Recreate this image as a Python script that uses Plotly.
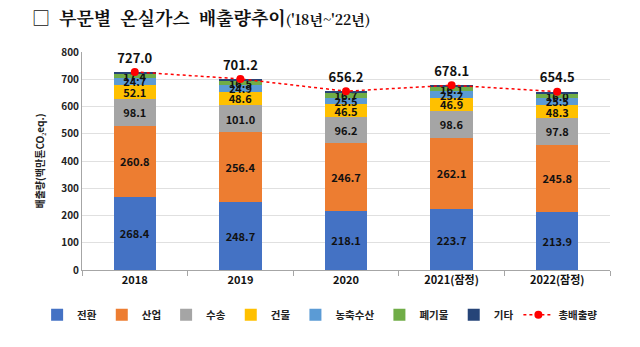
import plotly.graph_objects as go

years = ["2018", "2019", "2020", "2021(잠정)", "2022(잠정)"]
sectors = ["전환", "산업", "수송", "건물", "농축수산", "폐기물", "기타"]
colors = ["#4472C4", "#ED7D31", "#A5A5A5", "#FFC000", "#5B9BD5", "#70AD47", "#264478"]

conversion = [268.4, 248.7, 218.1, 223.7, 213.9]
industry = [260.8, 256.4, 246.7, 262.1, 245.8]
transport = [98.1, 101.0, 96.2, 98.6, 97.8]
building = [52.1, 48.6, 46.5, 46.9, 48.3]
agriculture = [24.7, 24.9, 25.5, 25.2, 25.5]
waste = [17.4, 16.5, 16.7, 16.1, 16.0]
total = [727.0, 701.2, 656.2, 678.1, 654.5]

labeled = [conversion, industry, transport, building, agriculture, waste]
other = [round(t - sum(s[i] for s in labeled), 1) for i, t in enumerate(total)]
series = labeled + [other]

fig = go.Figure()
for name, vals, col in zip(sectors, series, colors):
    show_text = name != "기타"
    fig.add_trace(go.Bar(
        x=years, y=vals, name=name, marker_color=col,
        marker_line_width=0,
        text=[f"{v:.1f}" for v in vals] if show_text else None,
        textposition="inside" if show_text else "none",
        insidetextanchor="middle",
        textangle=0,
        textfont=dict(family="Noto Sans CJK KR", size=11, color="#111111", weight="bold"),
    ))

fig.add_trace(go.Scatter(
    x=years, y=total, name="총배출량", mode="lines+markers+text",
    line=dict(color="#FF0000", width=1.5, dash="dot"),
    marker=dict(color="#FF0000", size=8),
    text=[f"{v:.1f}" for v in total], textposition="top center",
    textfont=dict(family="Noto Sans CJK KR", size=13, color="#111111", weight="bold"),
))

fig.update_layout(
    width=640, height=347,
    barmode="stack", bargap=0.6,
    margin=dict(l=82, r=30, t=52, b=77, autoexpand=False),
    plot_bgcolor="white", paper_bgcolor="white",
    font=dict(family="Noto Sans CJK KR", color="#222222"),
    uniformtext=dict(minsize=11, mode="show"),
    showlegend=True,
    legend=dict(orientation="h", x=-0.085, xanchor="left", y=-0.205, yanchor="middle",
                font=dict(size=10.5, weight="bold", color="#222222"),
                itemwidth=30, tracegroupgap=0, traceorder="normal"),
    xaxis=dict(showline=True, linecolor="#A6A6A6", linewidth=1,
               ticks="outside", tickson="boundaries", ticklen=5, tickcolor="#A6A6A6",
               tickfont=dict(size=11, weight="bold", color="#111111")),
    yaxis=dict(range=[0, 800], dtick=100, showgrid=True, gridcolor="#E0E0E0",
               showline=True, linecolor="#A6A6A6", zeroline=False,
               tickfont=dict(size=10, weight="bold", color="#222222"),
               title=dict(text="배출량(백만톤CO₂eq.)", standoff=14,
                          font=dict(size=10, weight="bold", color="#222222"))),
    annotations=[dict(
        xref="paper", yref="paper", x=-0.098, y=1.16, xanchor="left", yanchor="middle",
        showarrow=False,
        text="□  부문별  온실가스  배출량추이<span style='font-size:14px'>('18년~'22년)</span>",
        font=dict(family="Noto Serif CJK KR, Noto Sans CJK KR", size=18, color="#111111", weight="bold"),
    )],
)

fig.write_html("out.html")
